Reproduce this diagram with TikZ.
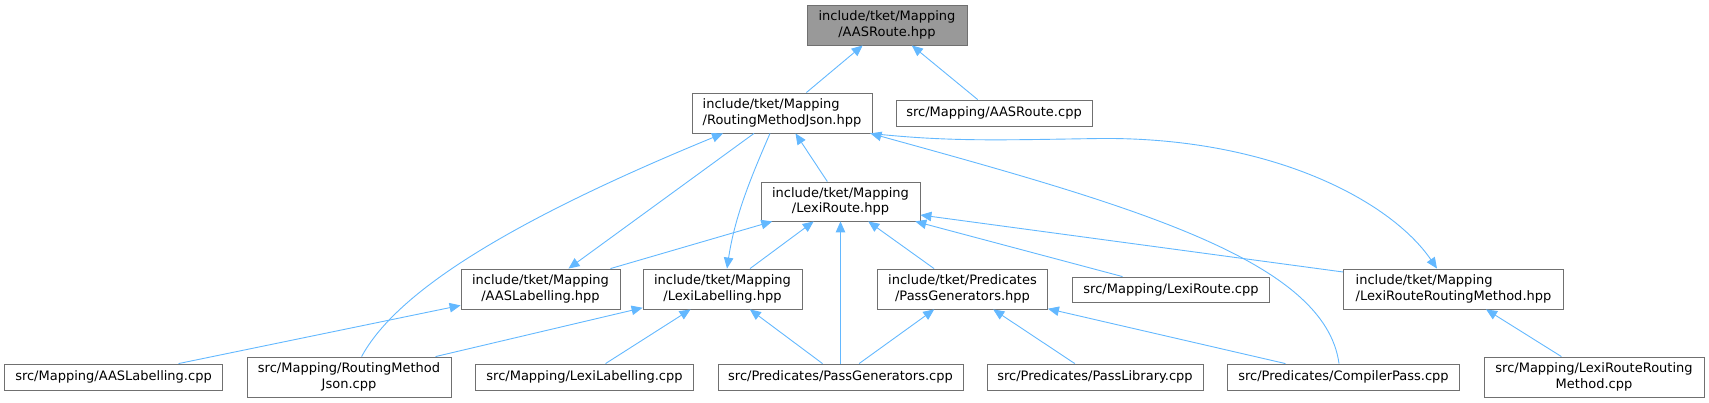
\documentclass[tikz,border=0pt]{standalone}
\usepackage{fontspec}
\setmainfont{DejaVu Sans}
\usetikzlibrary{arrows.meta}
\definecolor{edgeblue}{HTML}{63B8FF}
\definecolor{boxgray}{HTML}{707070}
\definecolor{rootfill}{HTML}{999999}
\begin{document}
\begin{tikzpicture}[x=1pt,y=-1pt,
  box/.style={draw=boxgray, line width=0.85pt, fill=white, inner xsep=2pt, inner ysep=1pt, align=center, font=\fontsize{13}{15.7}\selectfont, text=black},
  leftbox/.style={box, align=left},
  edge/.style={draw=edgeblue, line width=0.9pt, -{Triangle[length=11pt,width=9.5pt]}},
]
\useasboundingbox (0,0) rectangle (1709,403);
% nodes
\node[box, fill=rootfill, minimum width=160pt, minimum height=40pt] (A) at (887,25) {include/tket/Mapping\\/AASRoute.hpp};
\node[leftbox, minimum width=180pt, minimum height=40pt] (R) at (782,113) {include/tket/Mapping\\/RoutingMethodJson.hpp};
\node[box, minimum width=196pt, minimum height=26pt] (AC) at (994,113) {src/Mapping/AASRoute.cpp};
\node[box, minimum width=159pt, minimum height=39pt] (L) at (840.5,201.5) {include/tket/Mapping\\/LexiRoute.hpp};
\node[box, minimum width=159pt, minimum height=40pt] (AL) at (540.5,289) {include/tket/Mapping\\/AASLabelling.hpp};
\node[box, minimum width=159pt, minimum height=40pt] (LL) at (722.5,289) {include/tket/Mapping\\/LexiLabelling.hpp};
\node[box, minimum width=170pt, minimum height=40pt] (PG) at (962.5,289) {include/tket/Predicates\\/PassGenerators.hpp};
\node[box, minimum width=197pt, minimum height=25pt] (LC) at (1171,289.5) {src/Mapping/LexiRoute.cpp};
\node[leftbox, minimum width=220pt, minimum height=40pt] (LRRMh) at (1453.5,289) {include/tket/Mapping\\/LexiRouteRoutingMethod.hpp};
\node[box, minimum width=218pt, minimum height=26pt] (ALc) at (113.5,377) {src/Mapping/AASLabelling.cpp};
\node[box, minimum width=204pt, minimum height=40pt] (RMJc) at (349,377) {src/Mapping/RoutingMethod\\Json.cpp};
\node[box, minimum width=218pt, minimum height=26pt] (LLc) at (584.5,377) {src/Mapping/LexiLabelling.cpp};
\node[box, minimum width=245pt, minimum height=26pt] (PGc) at (840.5,377) {src/Predicates/PassGenerators.cpp};
\node[box, minimum width=216pt, minimum height=26pt] (PLc) at (1095,377) {src/Predicates/PassLibrary.cpp};
\node[box, minimum width=232pt, minimum height=26pt] (CPc) at (1343.5,377) {src/Predicates/CompilerPass.cpp};
\node[box, minimum width=220pt, minimum height=40pt] (LRRMc) at (1594,377) {src/Mapping/LexiRouteRouting\\Method.cpp};
% edges
\draw[edge] (R) -- (A);
\draw[edge] (AC) -- (A);
\draw[edge] (L) -- (R);
\draw[edge] (R) -- (AL);
\draw[edge] ([xshift=-12pt]R.south) .. controls (752,175) and (735,215) .. ([xshift=4.5pt]LL.north);
\draw[edge] ([xshift=12.6pt]RMJc.north) .. controls (395,295) and (500,225) .. ([xshift=-59pt]R.south);
\draw[edge] ([xshift=-4.5pt]CPc.north) .. controls (1325,260) and (1130,205) .. ([xshift=-2pt]R.south east);
\draw[edge] ([xshift=-2pt]R.south east) .. controls (950,142) and (1000,140) .. (1100,138.5) .. controls (1270,137) and (1390,200) .. ([xshift=-16.5pt]LRRMh.north);
\draw[edge] (AL) -- (L);
\draw[edge] (LL) -- (L);
\draw[edge] (PGc) -- (L);
\draw[edge] (PG) -- (L);
\draw[edge] (LC) -- (L);
\draw[edge] ([yshift=17pt]LRRMh.west) -- ([yshift=-13.5pt]L.east);
\draw[edge] (ALc) -- (AL);
\draw[edge] (RMJc) -- (LL);
\draw[edge] (LLc) -- (LL);
\draw[edge] (PGc) -- (LL);
\draw[edge] (PGc) -- (PG);
\draw[edge] (PLc) -- (PG);
\draw[edge] (CPc) -- (PG);
\draw[edge] (LRRMc) -- (LRRMh);
\end{tikzpicture}
\end{document}
